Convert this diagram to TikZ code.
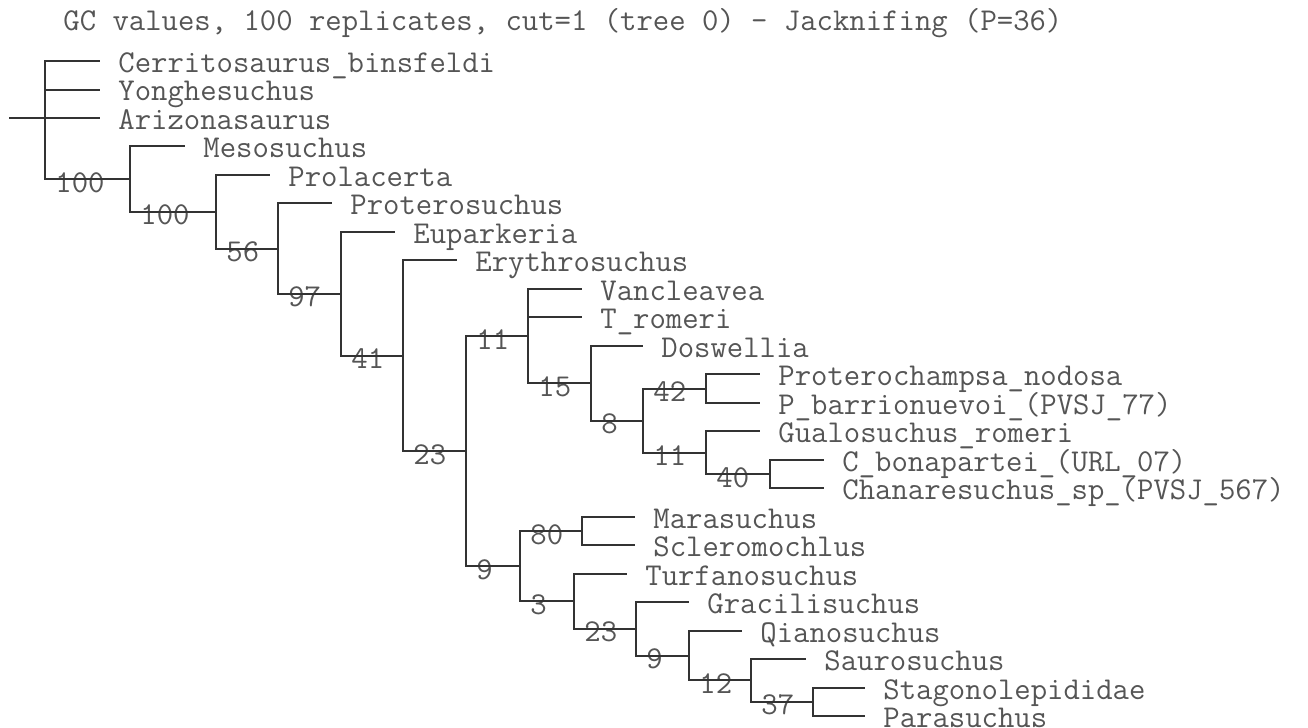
\documentclass[tikz,border=0pt]{standalone}
\usepackage{fontspec}
\usetikzlibrary{positioning,calc}
\definecolor{treeInk}{HTML}{333333}
\definecolor{labelInk}{HTML}{555555}

\begin{document}
\begin{tikzpicture}[x=0.5pt,y=-0.5pt,
   font=\ttfamily\fontsize{15.9}{18}\selectfont,
   branch/.style={draw=treeInk,line width=1pt},
   taxon/.style={anchor=base west,inner sep=0pt,text=labelInk,xshift=9pt,yshift=-5.7pt},
   gc/.style={anchor=base west,inner sep=0pt,text=labelInk,xshift=5pt,yshift=-6.5pt}]
  \useasboundingbox (0,0) rectangle (1308,728);
  \node[anchor=base west,inner sep=0pt,text=labelInk] (title) at (63,31)
    {GC values, 100 replicates, cut=1 (tree 0) - Jacknifing (P=36)};

  \coordinate (stub) at (9,118);
  \coordinate (root) at (45,118);
  \coordinate (n1) at (130,179);
  \coordinate (n2) at (216,211.7);
  \coordinate (n3) at (278,248.6);
  \coordinate (n4) at (341,293.8);
  \coordinate (n5) at (403,355.7);
  \coordinate (n6) at (466,451);
  \coordinate (n7) at (528,336);
  \coordinate (n9) at (591,383.2);
  \coordinate (n10) at (643,420.6);
  \coordinate (n11) at (706,388.5);
  \coordinate (n12) at (706,452.6);
  \coordinate (n13) at (770,474);
  \coordinate (n8) at (520,566.1);
  \coordinate (n14) at (582,531);
  \coordinate (n15) at (574,601.2);
  \coordinate (n16) at (636,628.8);
  \coordinate (n17) at (689,655.5);
  \coordinate (n18) at (751,680.4);
  \coordinate (n19) at (813,701.8);

  \coordinate (cerr) at (100,61);
  \coordinate (yong) at (100,89.5);
  \coordinate (ariz) at (100,118);
  \coordinate (meso) at (185,146.4);
  \coordinate (prola) at (270,174.9);
  \coordinate (protero) at (332,203.4);
  \coordinate (eupark) at (395,231.9);
  \coordinate (erythro) at (457,260.4);
  \coordinate (vanc) at (582,288.8);
  \coordinate (trom) at (582,317.3);
  \coordinate (dosw) at (643,345.8);
  \coordinate (proch) at (760,374.3);
  \coordinate (pbarr) at (760,402.8);
  \coordinate (gualo) at (760,431.2);
  \coordinate (cbon) at (824,459.7);
  \coordinate (chan) at (824,488.2);
  \coordinate (mara) at (635,516.7);
  \coordinate (scler) at (635,545.2);
  \coordinate (turf) at (627,573.6);
  \coordinate (gracil) at (689,602.1);
  \coordinate (qiano) at (742,630.6);
  \coordinate (sauro) at (806,659.1);
  \coordinate (stag) at (865,687.6);
  \coordinate (paras) at (865,716);

  \node[taxon] (lcerr) at (cerr) {Cerritosaurus\_binsfeldi};
  \node[taxon] (lyong) at (yong) {Yonghesuchus};
  \node[taxon] (lariz) at (ariz) {Arizonasaurus};
  \node[taxon] (lmeso) at (meso) {Mesosuchus};
  \node[taxon] (lprola) at (prola) {Prolacerta};
  \node[taxon] (lprotero) at (protero) {Proterosuchus};
  \node[taxon] (leupark) at (eupark) {Euparkeria};
  \node[taxon] (lerythro) at (erythro) {Erythrosuchus};
  \node[taxon] (lvanc) at (vanc) {Vancleavea};
  \node[taxon] (ltrom) at (trom) {T\_romeri};
  \node[taxon] (ldosw) at (dosw) {Doswellia};
  \node[taxon] (lproch) at (proch) {Proterochampsa\_nodosa};
  \node[taxon] (lpbarr) at (pbarr) {P\_barrionuevoi\_(PVSJ\_77)};
  \node[taxon] (lgualo) at (gualo) {Gualosuchus\_romeri};
  \node[taxon] (lcbon) at (cbon) {C\_bonapartei\_(URL\_07)};
  \node[taxon] (lchan) at (chan) {Chanaresuchus\_sp\_(PVSJ\_567)};
  \node[taxon] (lmara) at (mara) {Marasuchus};
  \node[taxon] (lscler) at (scler) {Scleromochlus};
  \node[taxon] (lturf) at (turf) {Turfanosuchus};
  \node[taxon] (lgracil) at (gracil) {Gracilisuchus};
  \node[taxon] (lqiano) at (qiano) {Qianosuchus};
  \node[taxon] (lsauro) at (sauro) {Saurosuchus};
  \node[taxon] (lstag) at (stag) {Stagonolepididae};
  \node[taxon] (lparas) at (paras) {Parasuchus};

  \node[gc] (g1) at (root |- n1) {100};
  \node[gc] (g2) at (n1 |- n2) {100};
  \node[gc] (g3) at (n2 |- n3) {56};
  \node[gc] (g4) at (n3 |- n4) {97};
  \node[gc] (g5) at (n4 |- n5) {41};
  \node[gc] (g6) at (n5 |- n6) {23};
  \node[gc] (g7) at (n6 |- n7) {11};
  \node[gc] (g9) at (n7 |- n9) {15};
  \node[gc] (g10) at (n9 |- n10) {8};
  \node[gc] (g11) at (n10 |- n11) {42};
  \node[gc] (g12) at (n10 |- n12) {11};
  \node[gc] (g13) at (n12 |- n13) {40};
  \node[gc] (g8) at (n6 |- n8) {9};
  \node[gc] (g14) at (n8 |- n14) {80};
  \node[gc] (g15) at (n8 |- n15) {3};
  \node[gc] (g16) at (n15 |- n16) {23};
  \node[gc] (g17) at (n16 |- n17) {9};
  \node[gc] (g18) at (n17 |- n18) {12};
  \node[gc] (g19) at (n18 |- n19) {37};

  \draw[branch] (stub) -- (root);
  \draw[branch] (root) |- (cerr);
  \draw[branch] (root) |- (yong);
  \draw[branch] (root) |- (ariz);
  \draw[branch] (root) |- (n1);
  \draw[branch] (n1) |- (meso);
  \draw[branch] (n1) |- (n2);
  \draw[branch] (n2) |- (prola);
  \draw[branch] (n2) |- (n3);
  \draw[branch] (n3) |- (protero);
  \draw[branch] (n3) |- (n4);
  \draw[branch] (n4) |- (eupark);
  \draw[branch] (n4) |- (n5);
  \draw[branch] (n5) |- (erythro);
  \draw[branch] (n5) |- (n6);
  \draw[branch] (n6) |- (n7);
  \draw[branch] (n6) |- (n8);
  \draw[branch] (n7) |- (vanc);
  \draw[branch] (n7) |- (trom);
  \draw[branch] (n7) |- (n9);
  \draw[branch] (n9) |- (dosw);
  \draw[branch] (n9) |- (n10);
  \draw[branch] (n10) |- (n11);
  \draw[branch] (n10) |- (n12);
  \draw[branch] (n11) |- (proch);
  \draw[branch] (n11) |- (pbarr);
  \draw[branch] (n12) |- (gualo);
  \draw[branch] (n12) |- (n13);
  \draw[branch] (n13) |- (cbon);
  \draw[branch] (n13) |- (chan);
  \draw[branch] (n8) |- (n14);
  \draw[branch] (n8) |- (n15);
  \draw[branch] (n14) |- (mara);
  \draw[branch] (n14) |- (scler);
  \draw[branch] (n15) |- (turf);
  \draw[branch] (n15) |- (n16);
  \draw[branch] (n16) |- (gracil);
  \draw[branch] (n16) |- (n17);
  \draw[branch] (n17) |- (qiano);
  \draw[branch] (n17) |- (n18);
  \draw[branch] (n18) |- (sauro);
  \draw[branch] (n18) |- (n19);
  \draw[branch] (n19) |- (stag);
  \draw[branch] (n19) |- (paras);
\end{tikzpicture}
\end{document}
